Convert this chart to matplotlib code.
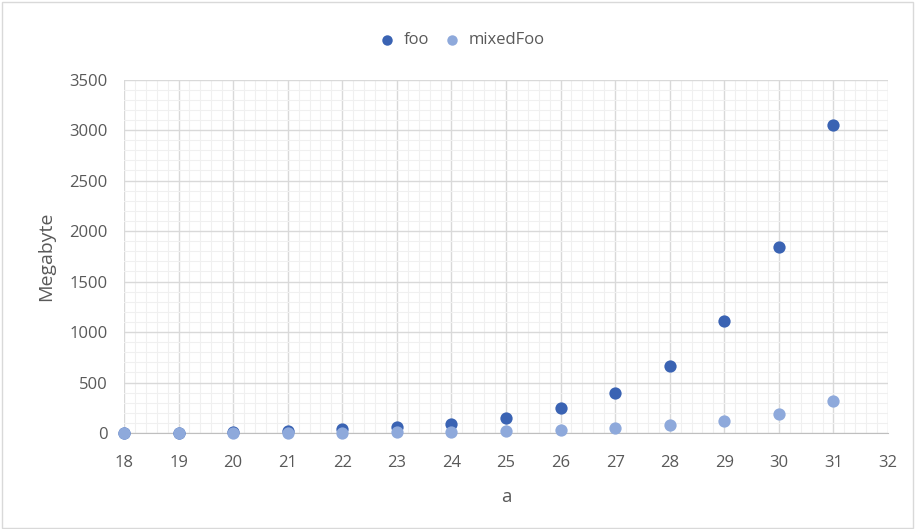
import matplotlib.pyplot as plt
from matplotlib.ticker import MultipleLocator
from matplotlib.patches import Rectangle

# Datos: tamaño en MB por valor de a
a = [18, 19, 20, 21, 22, 23, 24, 25, 26, 27, 28, 29, 30, 31]
foo = [2, 4, 8, 20, 35, 55, 90, 145, 245, 400, 665, 1105, 1843, 3052]
mixed_foo = [1, 1, 2, 3, 4, 5, 7, 20, 30, 45, 75, 115, 190, 318]

c_foo = '#3A63B3'
c_mixed = '#8EA9DB'
txt = '#595959'

plt.rcParams['font.family'] = ['Open Sans', 'DejaVu Sans']

fig = plt.figure(figsize=(9.15, 5.29), dpi=100)
ax = fig.add_axes([0.1355, 0.1815, 0.835, 0.668])

ax.scatter(a, foo, s=78, color=c_foo, label='foo', zorder=3, linewidths=0, clip_on=False)
ax.scatter(a, mixed_foo, s=78, color=c_mixed, label='mixedFoo', zorder=4, linewidths=0,
           clip_on=False)

ax.set_xlim(18, 32)
ax.set_ylim(0, 3500)
ax.xaxis.set_major_locator(MultipleLocator(1))
ax.xaxis.set_minor_locator(MultipleLocator(0.2))
ax.yaxis.set_major_locator(MultipleLocator(500))
ax.yaxis.set_minor_locator(MultipleLocator(100))

# Rejilla mayor y menor
ax.grid(which='major', color='#D9D9D9', linewidth=1.0, zorder=0)
ax.grid(which='minor', color='#F0F0F0', linewidth=0.8, zorder=0)
ax.set_axisbelow(True)

for s in ['top', 'right', 'left']:
    ax.spines[s].set_visible(False)
ax.spines['bottom'].set_color('#BFBFBF')
ax.tick_params(which='both', length=0, colors=txt, labelsize=12)
ax.tick_params(axis='x', pad=16)
ax.tick_params(axis='y', pad=12)

ax.set_xlabel('a', color=txt, fontsize=13.5, labelpad=12)
ax.set_ylabel('Megabyte', color=txt, fontsize=14, labelpad=10)

fig.legend(loc='upper center', bbox_to_anchor=(0.5, 0.968), ncol=2, frameon=False,
           fontsize=12, labelcolor=txt, handletextpad=0.0, columnspacing=0.4,
           markerscale=0.85)

# Borde exterior del gráfico
fig.patches.append(Rectangle((0.002, 0.002), 0.996, 0.994, transform=fig.transFigure,
                             fill=False, edgecolor='#D9D9D9', linewidth=1))

fig.savefig('out.png', dpi=100)
